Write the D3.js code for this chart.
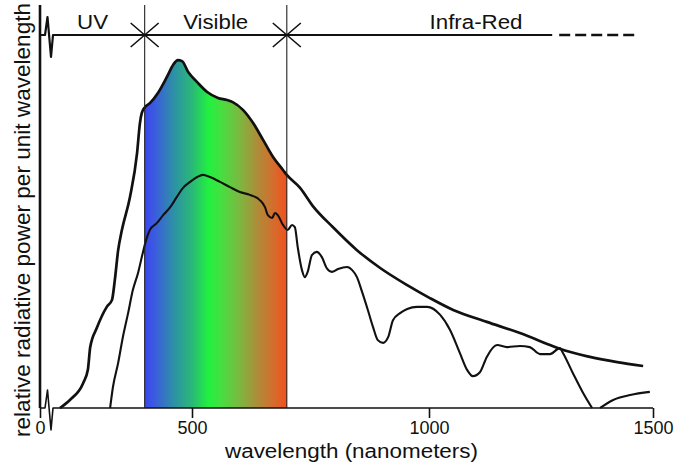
<!DOCTYPE html>
<html>
<head>
<meta charset="utf-8">
<script src="https://cdn.jsdelivr.net/npm/d3@7"></script>
<style>
  html, body { margin: 0; padding: 0; background: #fff; }
  svg { display: block; font-family: "Liberation Sans", Arial, Helvetica, sans-serif; }
</style>
</head>
<body>
<svg id="chart" width="676" height="471"></svg>
<script>
// ---------------- DATA ----------------
const xTickValues = [0, 500, 1000, 1500];
const xTickLabels = ["0", "500", "1000", "1500"];

const regionNames = ["UV", "Visible", "Infra-Red"];
const regionLabelAt = [290, 550, 1105];     // wavelength where each label is centred
const regionBounds = [400, 700];            // UV | Visible | Infra-Red boundaries (nm)
const irSolidEnd = 1275;
const irDashEnd = 1460;

// Top-of-atmosphere (outer) spectrum
const outerWl  = [221, 242, 270, 280, 285, 299, 320, 331, 337, 344, 352, 369, 384, 390, 394, 401, 411, 428, 447, 460, 470, 479, 492, 511, 532, 555, 574, 586, 608, 629, 650, 671, 692, 700, 728, 755, 797, 848, 897, 954, 1002, 1054, 1129, 1203, 1270, 1292, 1359, 1420, 1478];
const outerVal = [0, 2.3, 7.1, 10.9, 17.4, 22.9, 28.9, 30.9, 36.6, 45.1, 50.9, 60.3, 72.9, 81.4, 84.3, 86, 87.1, 90, 94.6, 98, 99.4, 99.1, 96, 93.1, 90.3, 88.6, 88, 87.4, 85.1, 81.4, 76.6, 71.7, 68, 66.6, 62.9, 57.7, 51.7, 45.1, 40, 35.1, 31.4, 28, 24.6, 21.4, 18, 16.9, 14.6, 13.1, 12];

// Sea-level (inner) spectrum, first segment
const innerWl  = [327, 333, 344, 354, 365, 375, 386, 396, 403, 411, 426, 439, 454, 468, 481, 496, 511, 523, 538, 559, 580, 601, 622, 643, 654, 660, 669, 675, 681, 692, 702, 711, 717, 723, 732, 738, 744, 753, 763, 774, 784, 795, 808, 827, 838, 848, 859, 871, 882, 892, 903, 914, 924, 939, 954, 975, 996, 1025, 1047, 1069, 1085, 1098, 1114, 1129, 1152, 1174, 1203, 1225, 1248, 1270, 1292, 1299, 1321, 1344, 1364];
const innerVal = [0, 6, 12.9, 20.3, 27.1, 33.7, 38.6, 44.3, 48, 50.9, 52.9, 55.1, 57.4, 60.3, 62.9, 64.6, 66, 66.6, 66, 64.6, 63.1, 61.7, 60.9, 59.4, 57.4, 55.1, 54.3, 55.7, 55.1, 52.3, 50.9, 52.3, 51.7, 46, 39.4, 37.4, 38.9, 43.7, 44.6, 43.1, 40, 38.9, 39.7, 40.3, 39.4, 37.4, 33.1, 28, 23.1, 19.4, 18.6, 20.3, 25.1, 27.1, 28.3, 28.9, 28.9, 26.6, 22.3, 15.7, 10.9, 9.1, 10.3, 14.6, 18, 17.4, 17.7, 17.4, 15.4, 15.4, 17.1, 15.7, 10, 4.3, 0];

// Sea-level (inner) spectrum, second segment
const inner2Wl  = [1382, 1411, 1449, 1493];
const inner2Val = [0, 2.3, 3.7, 4.6];

// Visible spectrum colour stops
const spectrumWl     = [400, 420, 460, 500, 535, 560, 600, 640, 675, 700];
const spectrumColors = ["#3a46f0", "#3c5ae0", "#2d8fa8", "#2ab878", "#22f040", "#44e040", "#7cb840", "#b08a38", "#d86a2c", "#f2501e"];

// ---------------- SCALES ----------------
const svg = d3.select("#chart");
const x = d3.scaleLinear().domain([0, 200, 500, 1000, 1500]).range([40, 50, 192, 429, 653]);
const y = d3.scaleLinear().domain([0, 100]).range([408, 58]);
const yTop = 5;
const headerY = 35;

const outer = outerWl.map((w, i) => ({w, v: outerVal[i]}));
const inner = innerWl.map((w, i) => ({w, v: innerVal[i]}));
const inner2 = inner2Wl.map((w, i) => ({w, v: inner2Val[i]}));

// ---------------- GRADIENT + FILL ----------------
const defs = svg.append("defs");
const grad = defs.append("linearGradient")
  .attr("id", "spec").attr("gradientUnits", "userSpaceOnUse")
  .attr("x1", x(regionBounds[0])).attr("x2", x(regionBounds[1]))
  .attr("y1", 0).attr("y2", 0);
spectrumWl.forEach((w, i) => {
  grad.append("stop")
    .attr("offset", (w - regionBounds[0]) / (regionBounds[1] - regionBounds[0]))
    .attr("stop-color", spectrumColors[i]);
});
defs.append("clipPath").attr("id", "visClip")
  .append("rect")
  .attr("x", x(regionBounds[0])).attr("y", 0)
  .attr("width", x(regionBounds[1]) - x(regionBounds[0]))
  .attr("height", y(0));

const curve = d3.curveMonotoneX;
const area = d3.area().x(d => x(d.w)).y0(y(0)).y1(d => y(d.v)).curve(curve);
svg.append("path").datum(outer)
  .attr("d", area)
  .attr("fill", "url(#spec)")
  .attr("clip-path", "url(#visClip)");

// ---------------- AXES ----------------
// y axis line
svg.append("line")
  .attr("x1", x(0)).attr("x2", x(0))
  .attr("y1", yTop).attr("y2", y(0))
  .attr("stroke", "#111").attr("stroke-width", 2.6);

// baseline with axis-break squiggle
const x0 = x(0), by = y(0);
svg.append("path")
  .attr("d", `M${x0},${by} L${x0+5},${by} L${x0+7.5},${by-18} L${x0+11},${by+22} L${x0+13},${by} L${x(1500)},${by}`)
  .attr("fill", "none").attr("stroke", "#111").attr("stroke-width", 1.6)
  .attr("stroke-linejoin", "round");

const xAxis = d3.axisBottom(x)
  .tickValues(xTickValues)
  .tickFormat((d, i) => xTickLabels[i])
  .tickSize(10).tickPadding(3);
const gx = svg.append("g").attr("transform", `translate(0,${by})`).call(xAxis);
gx.select(".domain").remove();
gx.selectAll(".tick line").attr("stroke", "#111").attr("stroke-width", 1.6);
gx.selectAll(".tick text")
  .attr("fill", "#111")
  .style("font-size", "18px")
  .style("font-family", "'Liberation Sans', Arial, sans-serif");

// ---------------- CURVES ----------------
const line = d3.line().x(d => x(d.w)).y(d => y(d.v)).curve(curve);
svg.append("path").datum(outer).attr("d", line)
  .attr("fill", "none").attr("stroke", "#111").attr("stroke-width", 2.7)
  .attr("stroke-linejoin", "round");
svg.append("path").datum(inner).attr("d", line)
  .attr("fill", "none").attr("stroke", "#111").attr("stroke-width", 2.1)
  .attr("stroke-linejoin", "round");
svg.append("path").datum(inner2).attr("d", line)
  .attr("fill", "none").attr("stroke", "#111").attr("stroke-width", 2.1);

// ---------------- REGION HEADER ----------------
regionBounds.forEach(b => {
  svg.append("line")
    .attr("x1", x(b)).attr("x2", x(b))
    .attr("y1", yTop).attr("y2", by)
    .attr("stroke", "#222").attr("stroke-width", 1.1);
  // X marker
  svg.append("path")
    .attr("d", `M${x(b)-14},${headerY-12} L${x(b)+14},${headerY+12} M${x(b)-14},${headerY+12} L${x(b)+14},${headerY-12}`)
    .attr("stroke", "#111").attr("stroke-width", 1.6).attr("fill", "none");
});

svg.append("path")
  .attr("d", `M${x0},${headerY} L${x0+5},${headerY} L${x0+7.5},${headerY-18} L${x0+11},${headerY+22} L${x0+13},${headerY} L${x(irSolidEnd)},${headerY}`)
  .attr("fill", "none").attr("stroke", "#111").attr("stroke-width", 2.2)
  .attr("stroke-linejoin", "round");
svg.append("line")
  .attr("x1", x(irSolidEnd) + 7).attr("x2", x(irDashEnd))
  .attr("y1", headerY).attr("y2", headerY)
  .attr("stroke", "#111").attr("stroke-width", 2.6)
  .attr("stroke-dasharray", "11,5");

const regionWidths = [31, 65, 93];
regionNames.forEach((n, i) => {
  svg.append("text")
    .attr("x", x(regionLabelAt[i])).attr("y", 29)
    .attr("text-anchor", "middle")
    .attr("textLength", regionWidths[i]).attr("lengthAdjust", "spacingAndGlyphs")
    .style("font-size", "20px").attr("fill", "#111")
    .text(n);
});

// ---------------- AXIS TITLES ----------------
svg.append("text")
  .attr("x", 351.5).attr("y", 458)
  .attr("text-anchor", "middle")
  .attr("textLength", 253).attr("lengthAdjust", "spacingAndGlyphs")
  .style("font-size", "20px").attr("fill", "#111")
  .text("wavelength (nanometers)");

svg.append("text")
  .attr("transform", "translate(29.5,220) rotate(-90)")
  .attr("text-anchor", "middle")
  .attr("textLength", 434).attr("lengthAdjust", "spacingAndGlyphs")
  .style("font-size", "22px").attr("fill", "#111")
  .text("relative radiative power per unit wavelength");
</script>
</body>
</html>
